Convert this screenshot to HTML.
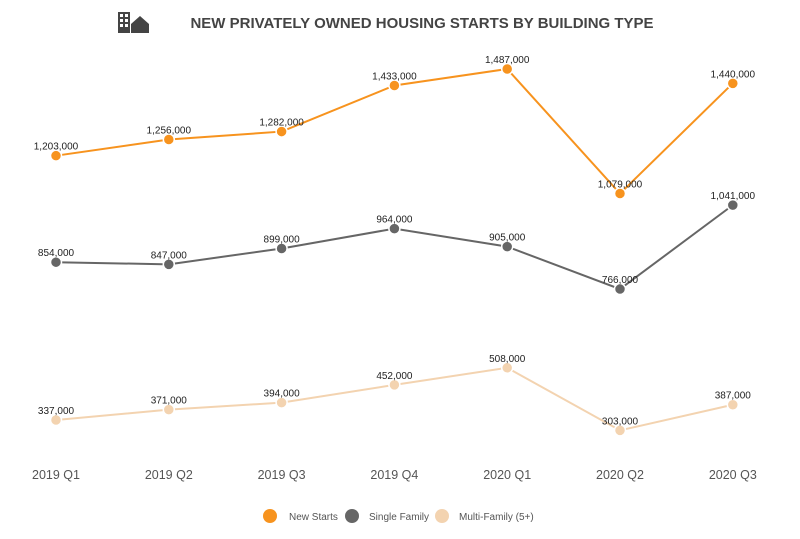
<!DOCTYPE html>
<html><head><meta charset="utf-8"><style>
body{margin:0;background:#fff;font-family:"Liberation Sans",sans-serif}
</style></head><body>
<svg width="800" height="534" xmlns="http://www.w3.org/2000/svg">
<g fill="#444">
<rect x="118" y="12" width="12" height="21"/>
<g fill="#fff"><rect x="120" y="14" width="3" height="3"/><rect x="125" y="14" width="3" height="3"/><rect x="120" y="19" width="3" height="3"/><rect x="125" y="19" width="3" height="3"/><rect x="120" y="24" width="3" height="3"/><rect x="125" y="24" width="3" height="3"/></g>
<polygon points="131,33 131,24 140,16 149,24 149,33"/>
</g>
<text x="422" y="28" text-anchor="middle" font-size="15" font-weight="bold" fill="#444">NEW PRIVATELY OWNED HOUSING STARTS BY BUILDING TYPE</text>
<g id="plot"></g>
<g font-size="10" fill="#555">
<g><circle cx="270" cy="516" r="7" fill="#F7931E"/><text x="289" y="520">New Starts</text></g>
<g><circle cx="352" cy="516" r="7" fill="#666"/><text x="369" y="520">Single Family</text></g>
<g><circle cx="442" cy="516" r="7" fill="#F3D3B0"/><text x="459" y="520">Multi-Family (5+)</text></g>
</g>
</svg>
<script>
const categories=["2019 Q1","2019 Q2","2019 Q3","2019 Q4","2020 Q1","2020 Q2","2020 Q3"];
const newStarts=[1203000,1256000,1282000,1433000,1487000,1079000,1440000];
const singleFamily=[854000,847000,899000,964000,905000,766000,1041000];
const multiFamily=[337000,371000,394000,452000,508000,303000,387000];
const NS="http://www.w3.org/2000/svg";
const g=document.getElementById('plot');
function xs(i){return 56+i*112.8;}
function ys(v){return 420-(v-337000)*351/1150000;}
function el(t,a){const e=document.createElementNS(NS,t);for(const k in a)e.setAttribute(k,a[k]);return e;}
categories.forEach((c,i)=>{const t=el('text',{x:xs(i),y:479,'text-anchor':'middle','font-size':12.5,fill:'#555'});t.textContent=c;


g.appendChild(t);});
function series(vals,color,name){
const p=el('polyline',{points:vals.map((v,i)=>xs(i)+','+ys(v)).join(' '),fill:'none',stroke:color,'stroke-width':2});


g.appendChild(p);
vals.forEach((v,i)=>{
const c=el('circle',{cx:xs(i),cy:ys(v),r:5.5,fill:color,stroke:'#fff','stroke-width':1.5});


g.appendChild(c);
const t=el('text',{x:xs(i),y:ys(v)-6,'text-anchor':'middle','font-size':10,fill:'#222'});
t.textContent=v.toLocaleString('en-US');


g.appendChild(t);});
}
series(multiFamily,'#F3D3B0','multi-family');
series(singleFamily,'#666666','single-family');
series(newStarts,'#F7931E','new-starts');
</script>
</body></html>
